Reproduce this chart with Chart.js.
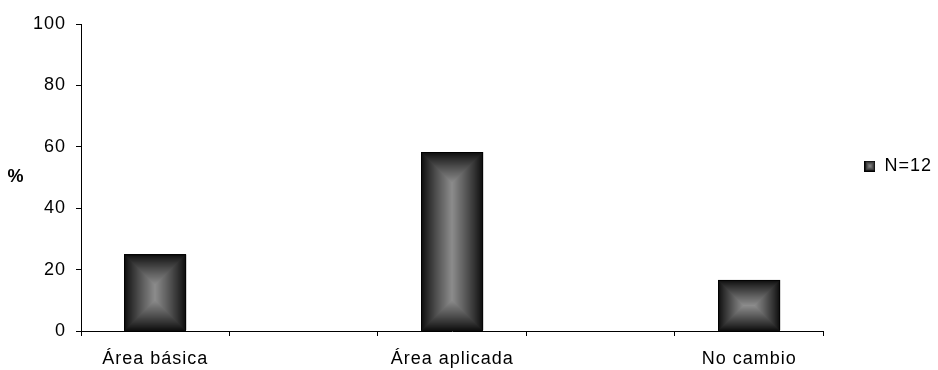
<!DOCTYPE html>
<html>
<head>
<meta charset="utf-8">
<script src="https://cdn.jsdelivr.net/npm/chart.js@4/dist/chart.umd.min.js"></script>
<style>
  html, body { margin: 0; padding: 0; background: #fff; }
  #cambioChart { display: block; }
</style>
</head>
<body>
<canvas id="cambioChart" width="938" height="370"></canvas>
<script>
// categories (empty ones are the gaps between the labelled bars)
const categories = ["Área básica", "", "Área aplicada", "", "No cambio"];
const seriesLabel = "N=12";
const percentages = [25, null, 58.3, null, 16.7];
const yTitle = "%";
const yTicks = { min: 0, max: 100, step: 20 };

const fontName = "'Liberation Sans', Arial, sans-serif";

// shade value for the "from centre" rectangle gradient
function shade(d, m) {
  const t = Math.min(d / m, 1);
  return Math.round(10 + 130 * Math.pow(t, 0.9));
}

// paints a w x h gradient box on a small canvas
function gradientBox(w, h) {
  const c = document.createElement("canvas");
  c.width = Math.max(1, Math.round(w));
  c.height = Math.max(1, Math.round(h));
  const g = c.getContext("2d");
  const img = g.createImageData(c.width, c.height);
  const m = Math.min(c.width, c.height) / 2;
  for (let py = 0; py < c.height; py++) {
    for (let px = 0; px < c.width; px++) {
      const d = Math.min(px + 0.5, c.width - px - 0.5, py + 0.5, c.height - py - 0.5);
      const v = shade(d, m);
      const i = (py * c.width + px) * 4;
      img.data[i] = v;
      img.data[i + 1] = v;
      img.data[i + 2] = v;
      img.data[i + 3] = 255;
    }
  }
  g.putImageData(img, 0, 0);
  return c;
}

// legend marker
const legendMark = gradientBox(11, 11);
(function () {
  const g = legendMark.getContext("2d");
  g.strokeStyle = "#000";
  g.lineWidth = 1;
  g.strokeRect(0.5, 0.5, 10, 10);
})();

const barShading = {
  id: "barShading",
  beforeDatasetsDraw(chart) {
    const ctx = chart.ctx;
    chart.getSortedVisibleDatasetMetas().forEach((meta) => {
      meta.data.forEach((bar, i) => {
        if (percentages[i] === null) return;
        const p = bar.getProps(["x", "y", "base", "width"], true);
        const left = Math.round(p.x - p.width / 2);
        const top = Math.round(p.y);
        const w = Math.round(p.width);
        const h = Math.round(p.base) - top;
        if (h <= 0) return;
        ctx.drawImage(gradientBox(w, h), left, top);
      });
    });
  },
};

const textTweaks = {
  id: "textTweaks",
  beforeDraw(chart) {
    chart.ctx.letterSpacing = "1px";
  },
  afterDraw(chart) {
    const ctx = chart.ctx;
    const area = chart.chartArea;
    ctx.save();
    ctx.fillStyle = "#000";
    ctx.font = "bold 18px " + fontName;
    ctx.textAlign = "center";
    ctx.textBaseline = "middle";
    ctx.fillText(yTitle, 16, (area.top + area.bottom) / 2);
    ctx.restore();
  },
};

Chart.defaults.font.family = fontName;
Chart.defaults.font.size = 18;
Chart.defaults.color = "#000";

const chartCtx = document.querySelector("#cambioChart").getContext("2d");
const cambioChart = new Chart(chartCtx, {
  type: "bar",
  data: {
    labels: categories,
    datasets: [
      {
        label: seriesLabel,
        data: percentages,
        backgroundColor: "rgba(0,0,0,0)",
        borderColor: "#000",
        borderWidth: 1,
        barPercentage: 0.42,
        categoryPercentage: 1,
        pointStyle: legendMark,
      },
    ],
  },
  options: {
    responsive: false,
    animation: false,
    events: [],
    layout: { padding: { top: 24, right: 0, bottom: 0, left: 0 } },
    plugins: {
      tooltip: { enabled: false },
      legend: {
        position: "right",
        align: "start",
        title: {
          display: true,
          text: " ",
          font: { size: 10 },
          padding: { top: 80, bottom: 0 },
        },
        labels: {
          usePointStyle: true,
          boxWidth: 11,
          boxHeight: 11,
          padding: 41,
          color: "#000",
          font: { size: 18 },
        },
      },
    },
    scales: {
      x: {
        grid: {
          display: true,
          drawOnChartArea: false,
          drawTicks: true,
          tickLength: 5,
          color: "#000",
          offset: true,
        },
        border: { display: true, color: "#000", width: 1 },
        ticks: { autoSkip: false, maxRotation: 0, padding: 12 },
        afterFit(scale) {
          scale.height = 39;
        },
      },
      y: {
        min: yTicks.min,
        max: yTicks.max,
        grid: {
          display: true,
          drawOnChartArea: false,
          drawTicks: true,
          tickLength: 5,
          color: "#000",
        },
        border: { display: true, color: "#000", width: 1 },
        ticks: { stepSize: yTicks.step, padding: 10 },
        afterFit(scale) {
          scale.width = 81;
        },
      },
    },
  },
  plugins: [barShading, textTweaks],
});
</script>
</body>
</html>
